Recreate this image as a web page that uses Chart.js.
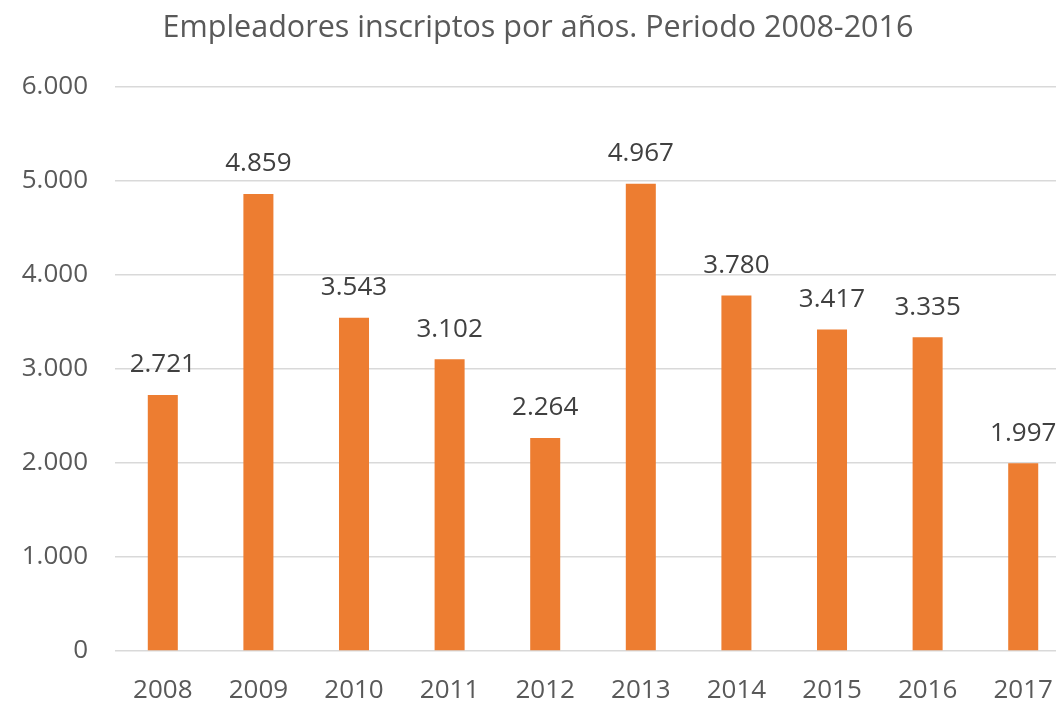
<!DOCTYPE html>
<html>
<head>
<meta charset="utf-8">
<script src="https://cdn.jsdelivr.net/npm/chart.js@4"></script>
<style>
  html, body { margin: 0; padding: 0; background: #fff; overflow: hidden; }
  #wrap { width: 1077px; height: 701px; }
</style>
</head>
<body>
<div id="wrap"><canvas id="chart"></canvas></div>
<script>
// Datos
const years = ['2008', '2009', '2010', '2011', '2012', '2013', '2014', '2015', '2016', '2017'];
const employers = [2721, 4859, 3543, 3102, 2264, 4967, 3780, 3417, 3335, 1997];
const yTicks = [0, 1000, 2000, 3000, 4000, 5000, 6000];

const FONT = "'Open Sans', sans-serif";

// Formato con punto como separador de miles (6.000)
function fmt(v) {
    return String(v).replace(/\B(?=(\d{3})+(?!\d))/g, '.');
}

// Plugin sencillo para las etiquetas de datos encima de cada barra
const barLabels = {
    id: 'barLabels',
    afterDatasetsDraw(chart) {
        const ctx = chart.ctx;
        const meta = chart.getDatasetMeta(0);
        ctx.save();
        ctx.font = "26px " + FONT;
        ctx.fillStyle = '#404040';
        ctx.textAlign = 'center';
        ctx.textBaseline = 'middle';
        meta.data.forEach((bar, i) => {
            ctx.fillText(fmt(employers[i]), bar.x, bar.y - 30);
        });
        ctx.restore();
    }
};

new Chart(document.getElementById('chart'), {
    type: 'bar',
    data: {
        labels: years,
        datasets: [{
            data: employers,
            backgroundColor: '#ED7D31',
            barPercentage: 0.314,
            categoryPercentage: 1.0
        }]
    },
    options: {
        responsive: true,
        maintainAspectRatio: false,
        animation: false,
        layout: { padding: { left: 0, right: 1, top: 0, bottom: 0 } },
        plugins: {
            legend: { display: false },
            tooltip: { enabled: false },
            title: {
                display: true,
                text: 'Empleadores inscriptos por años. Periodo 2008-2016',
                color: '#595959',
                font: { family: FONT, size: 30.5, weight: 'normal' },
                padding: { top: 10, bottom: 40 }
            }
        },
        scales: {
            x: {
                grid: { display: false, drawTicks: false },
                border: { display: false },
                afterFit(scale) {
                    scale.height = 50;
                },
                ticks: {
                    color: '#595959',
                    font: { family: FONT, size: 26 },
                    padding: 24,
                    maxRotation: 0
                }
            },
            y: {
                min: 0,
                max: 6000,
                afterBuildTicks(scale) {
                    scale.ticks = yTicks.map(v => ({ value: v }));
                },
                afterFit(scale) {
                    scale.width = 115;
                },
                grid: { color: '#D9D9D9', lineWidth: 1.5, drawTicks: false },
                border: { display: false },
                ticks: {
                    color: '#595959',
                    font: { family: FONT, size: 26 },
                    padding: 27,
                    callback: v => fmt(v)
                }
            }
        }
    },
    plugins: [barLabels]
});
</script>
</body>
</html>
